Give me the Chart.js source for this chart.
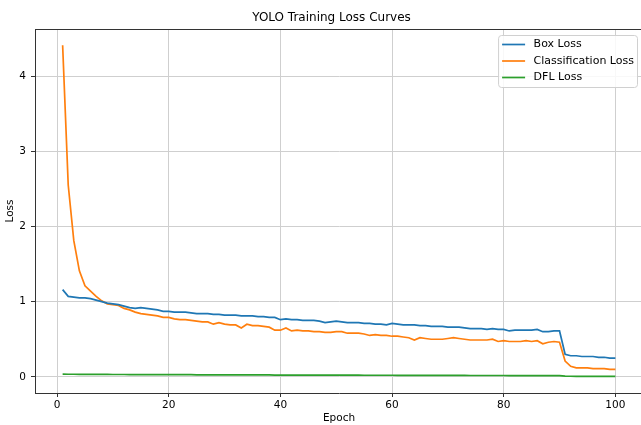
<!DOCTYPE html>
<html>
<head>
<meta charset="utf-8">
<script src="https://cdn.jsdelivr.net/npm/chart.js@4/dist/chart.umd.min.js"></script>
<style>
  html, body { margin: 0; padding: 0; background: #fff; overflow: hidden; }
  #wrap { position: relative; width: 643px; height: 425px; }
</style>
</head>
<body>
<div id="wrap"><canvas id="c"></canvas></div>
<script>
const epochs = [1,2,3,4,5,6,7,8,9,10,11,12,13,14,15,16,17,18,19,20,21,22,23,24,25,26,27,28,29,30,31,32,33,34,35,36,37,38,39,40,41,42,43,44,45,46,47,48,49,50,51,52,53,54,55,56,57,58,59,60,61,62,63,64,65,66,67,68,69,70,71,72,73,74,75,76,77,78,79,80,81,82,83,84,85,86,87,88,89,90,91,92,93,94,95,96,97,98,99,100];

const boxLoss = [1.16,1.07,1.06,1.05,1.05,1.04,1.02,1.00,0.98,0.97,
  0.96,0.94,0.92,0.91,0.92,0.91,0.90,0.89,0.87,0.87,
  0.86,0.86,0.86,0.85,0.84,0.84,0.84,0.83,0.83,0.82,
  0.82,0.82,0.81,0.81,0.81,0.80,0.80,0.79,0.79,0.76,
  0.77,0.76,0.76,0.75,0.75,0.75,0.74,0.72,0.73,0.74,
  0.73,0.72,0.72,0.72,0.71,0.71,0.70,0.70,0.69,0.71,
  0.70,0.69,0.69,0.69,0.68,0.68,0.67,0.67,0.67,0.66,
  0.66,0.66,0.65,0.64,0.64,0.64,0.63,0.64,0.63,0.63,
  0.61,0.62,0.62,0.62,0.62,0.63,0.60,0.60,0.61,0.61,
  0.30,0.28,0.28,0.27,0.27,0.27,0.26,0.26,0.25,0.25];

const clsLoss = [4.41,2.55,1.81,1.41,1.21,1.14,1.07,1.01,0.97,0.96,
  0.95,0.91,0.89,0.86,0.84,0.83,0.82,0.81,0.79,0.79,
  0.77,0.76,0.76,0.75,0.74,0.73,0.73,0.70,0.72,0.70,
  0.69,0.69,0.65,0.70,0.68,0.68,0.67,0.66,0.62,0.62,
  0.65,0.61,0.62,0.61,0.61,0.60,0.60,0.59,0.59,0.60,
  0.60,0.58,0.58,0.58,0.57,0.55,0.56,0.55,0.55,0.54,
  0.54,0.53,0.52,0.49,0.52,0.51,0.50,0.50,0.50,0.51,
  0.52,0.51,0.50,0.49,0.49,0.49,0.49,0.50,0.47,0.48,
  0.47,0.47,0.47,0.48,0.47,0.48,0.44,0.46,0.47,0.46,
  0.21,0.14,0.12,0.12,0.12,0.11,0.11,0.11,0.10,0.10];

const dflLoss = [0.035,0.034,0.034,0.033,0.033,0.033,0.032,0.032,0.032,0.031,
  0.031,0.031,0.030,0.030,0.030,0.030,0.029,0.029,0.029,0.029,
  0.028,0.028,0.028,0.028,0.027,0.027,0.027,0.027,0.026,0.026,
  0.026,0.026,0.026,0.025,0.025,0.025,0.025,0.025,0.024,0.024,
  0.024,0.024,0.024,0.023,0.023,0.023,0.023,0.023,0.022,0.022,
  0.022,0.022,0.022,0.022,0.021,0.021,0.021,0.021,0.021,0.021,
  0.020,0.020,0.020,0.020,0.020,0.020,0.019,0.019,0.019,0.019,
  0.019,0.019,0.019,0.018,0.018,0.018,0.018,0.018,0.018,0.018,
  0.017,0.017,0.017,0.017,0.017,0.017,0.017,0.017,0.016,0.016,
  0.010,0.008,0.007,0.007,0.007,0.006,0.006,0.006,0.006,0.006];

const seriesNames = ['Box Loss', 'Classification Loss', 'DFL Loss'];
const seriesColors = ['#1f77b4', '#ff7f0e', '#2ca02c'];
const xTicks = [0, 20, 40, 60, 80, 100];
const yTicks = [0, 1, 2, 3, 4];
const chartTitle = 'YOLO Training Loss Curves';

const FONT = "'DejaVu Sans', sans-serif";
const pts = arr => epochs.map((e, i) => ({ x: e, y: arr[i] }));

const framePlugin = {
  id: 'frame',
  afterDraw(chart) {
    const ctx = chart.ctx, a = chart.chartArea;
    ctx.save();
    // title
    ctx.fillStyle = '#000';
    ctx.font = '12px ' + FONT;
    ctx.textAlign = 'center';
    ctx.textBaseline = 'middle';
    ctx.fillText(chartTitle, chart.width / 2 + 10, 18);
    // top spine
    ctx.strokeStyle = '#333';
    ctx.lineWidth = 1;
    ctx.beginPath();
    ctx.moveTo(a.left, a.top + 0.5);
    ctx.lineTo(a.right, a.top + 0.5);
    ctx.stroke();
    // legend
    const ds = chart.data.datasets;
    ctx.font = '11px ' + FONT;
    let maxW = 0;
    ds.forEach(d => { maxW = Math.max(maxW, ctx.measureText(d.label).width); });
    const rowH = 16.5;
    const w = 4 + 23 + 8.5 + maxW + 3;
    const h = 52;
    const x0 = a.right - 6 - w;
    const y0 = a.top + 6;
    ctx.fillStyle = 'rgba(255,255,255,0.85)';
    ctx.strokeStyle = '#d0d0d0';
    ctx.lineWidth = 1;
    ctx.beginPath();
    if (ctx.roundRect) ctx.roundRect(x0 + 0.5, y0 + 0.5, w, h, 3); else ctx.rect(x0 + 0.5, y0 + 0.5, w, h);
    ctx.fill();
    ctx.stroke();
    ds.forEach((d, i) => {
      const yy = y0 + 9.5 + i * rowH;
      ctx.strokeStyle = d.borderColor;
      ctx.lineWidth = 1.7;
      ctx.beginPath();
      ctx.moveTo(x0 + 4, yy);
      ctx.lineTo(x0 + 27, yy);
      ctx.stroke();
      ctx.fillStyle = '#000';
      ctx.textBaseline = 'middle';
      ctx.textAlign = 'left';
      ctx.fillText(d.label, x0 + 35.5, yy);
    });
    ctx.restore();
  }
};

new Chart(document.getElementById('c'), {
  type: 'line',
  data: {
    datasets: [
      { label: seriesNames[0], data: pts(boxLoss), borderColor: seriesColors[0], backgroundColor: seriesColors[0] },
      { label: seriesNames[1], data: pts(clsLoss), borderColor: seriesColors[1], backgroundColor: seriesColors[1] },
      { label: seriesNames[2], data: pts(dflLoss), borderColor: seriesColors[2], backgroundColor: seriesColors[2] }
    ]
  },
  options: {
    responsive: true,
    maintainAspectRatio: false,
    animation: false,
    devicePixelRatio: 1,
    layout: { padding: { top: 29, left: 0, right: 0, bottom: 0 } },
    elements: {
      point: { radius: 0, hoverRadius: 0 },
      line: { borderWidth: 1.7, tension: 0 }
    },
    plugins: {
      legend: { display: false },
      tooltip: { enabled: false },
      title: { display: false }
    },
    scales: {
      x: {
        type: 'linear',
        min: -3.95,
        max: 104.95,
        afterBuildTicks: s => { s.ticks = xTicks.map(v => ({ value: v })); },
        afterFit: s => { s.height = 32; },
        ticks: { color: '#000', font: { family: FONT, size: 10.5 }, padding: 2, maxRotation: 0, autoSkip: false },
        grid: { color: '#cfcfcf', lineWidth: 1, tickColor: '#333', tickLength: 4, drawTicks: true },
        border: { color: '#333', width: 1 },
        title: { display: true, text: 'Epoch', color: '#000', font: { family: FONT, size: 10.5 }, padding: 0 }
      },
      y: {
        type: 'linear',
        min: -0.215,
        max: 4.625,
        afterBuildTicks: s => { s.ticks = yTicks.map(v => ({ value: v })); },
        afterFit: s => { s.width = 35; },
        ticks: { color: '#000', font: { family: FONT, size: 10.5 }, padding: 5, autoSkip: false },
        grid: { color: '#cfcfcf', lineWidth: 1, tickColor: '#333', tickLength: 4, drawTicks: true },
        border: { color: '#333', width: 1 },
        title: { display: true, text: 'Loss', color: '#000', font: { family: FONT, size: 10.5 }, padding: { top: 4, bottom: 4 } }
      }
    }
  },
  plugins: [framePlugin]
});
</script>
</body>
</html>
